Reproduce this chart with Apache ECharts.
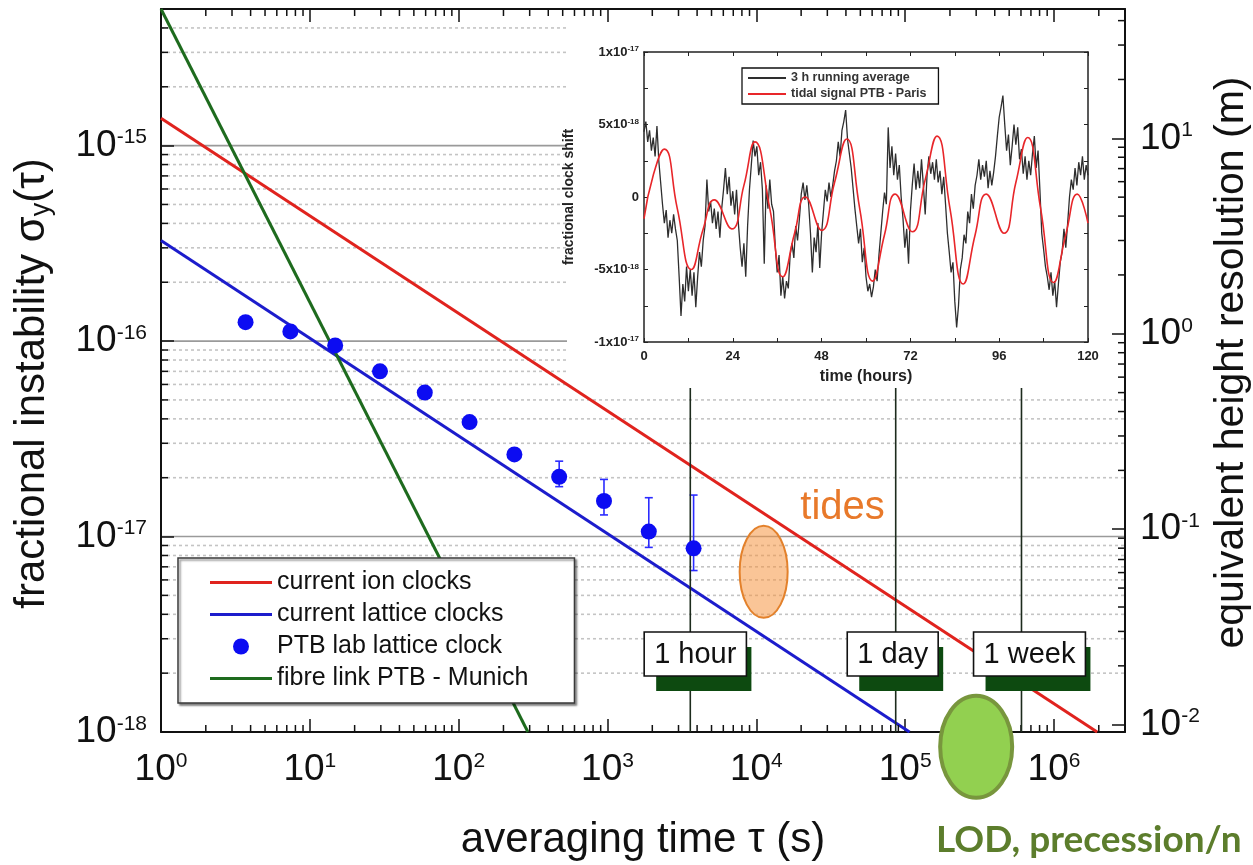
<!DOCTYPE html>
<html><head><meta charset="utf-8">
<script src="https://cdn.jsdelivr.net/npm/echarts@6/dist/echarts.min.js"></script>
<style>html,body{margin:0;padding:0;background:#fff}#c{width:1253px;height:865px}</style>
</head><body><div id="c"></div>
<script>
// ---------------- data ----------------
const tauMin = 1, tauMax = 3e6;            // averaging time axis (s)
const sigmaMin = 1e-18, sigmaMax = 5e-15;  // fractional instability axis
const metresPerSigma = 1 / 1.09e-16;       // equivalent height scale factor

const ionClockLine     = [[1, 1.38e-15], [1.95e6, 1e-18]];
const latticeClockLine = [[1, 3.27e-16], [1.07e5, 1e-18]];
const fibreLinkLine    = [[1, 5e-15], [292, 1e-18]];

const ptbTau     = [3.7, 7.4, 14.8, 29.6, 59.2, 118.4, 236.8, 473.6, 947.2, 1894.4, 3788.8];
const ptbSigma   = [1.25e-16, 1.12e-16, 9.5e-17, 7.0e-17, 5.45e-17, 3.85e-17, 2.63e-17, 2.02e-17, 1.52e-17, 1.06e-17, 8.7e-18];
const ptbErrLow  = [1.2e-16, 1.08e-16, 9.2e-17, 6.8e-17, 5.3e-17, 3.7e-17, 2.5e-17, 1.8e-17, 1.29e-17, 8.8e-18, 6.7e-18];
const ptbErrHigh = [1.32e-16, 1.16e-16, 9.8e-17, 7.2e-17, 5.6e-17, 4.0e-17, 2.8e-17, 2.43e-17, 1.96e-17, 1.58e-17, 1.63e-17];

const timeMarkTau    = [3600, 86400, 604800];
const timeMarkLabels = ['1 hour', '1 day', '1 week'];
const tidesRegion    = [[1.12e4, 6.6e-18]];
const tidesLabelAt   = [[3.8e4, 1.4e-17]];
const lodRegion      = [[3.0e5, 8.4e-19]];

const sigmaDecades   = [1e-17, 1e-16, 1e-15];
const minorMultiples = [2, 3, 4, 5, 6, 7, 8, 9];
const sigmaTickDecades = [1e-18, 1e-17, 1e-16, 1e-15];
const tauTickDecades   = [1, 10, 100, 1e3, 1e4, 1e5, 1e6];
const heightTickDecades = [0.001, 0.01, 0.1, 1, 10];

// inset: fractional clock shift in units of 1e-18, time in hours
const insetYTicks  = [-10, -5, 0, 5, 10];
const insetYLabels = [['-1x10', '-17'], ['-5x10', '-18'], ['0', ''], ['5x10', '-18'], ['1x10', '-17']];
const runningAvgStepHours = 0.5;
const runningAvg = [
 4.5, 5.2, 3.8, 4.6, 3.2, 4.1, 2.8, 4.9, 2.5, 1.0,
 -0.5, -1.8, -0.9, -2.8, -1.6, -2.5, -1.2, -2.2, -3.0, -5.5,
 -8.2, -6.0, -7.2, -4.8, -6.5, -5.0, -6.8, -5.2, -7.6, -5.5,
 -3.8, -4.8, -3.0, -2.0, 1.2, -1.0, -0.3, -1.8, -0.8, -2.2,
 -1.0, -2.8, -0.8, 0.5, 2.0, 0.2, 1.4, -0.6, 0.4, -1.2,
 0.5, -1.8, -3.5, -4.8, -3.2, -5.5, -2.0, 0.5, 2.2, 3.9,
 2.8, 3.5, 1.5, 2.4, 0.5, -4.6, 0.8, -0.8, 1.2, -0.5,
 -1.0, -3.5, -5.2, -4.0, -6.8, -5.5, -7.0, -5.8, -6.3, -4.0,
 -3.2, -4.2, -2.0, -3.0, -1.5, 0.2, 1.0, -0.2, 0.8, -0.5,
 -2.5, -5.2, -2.8, -3.8, -1.8, -4.9, -2.5, -1.0, 0.5, -0.3,
 1.0, 0.0, 0.8, 1.8, 2.5, 3.8, 2.8, 4.6, 5.2, 6.0,
 4.0, 3.0, 2.0, 0.6, -0.8, -2.0, -3.2, -2.2, -4.5, -3.5,
 -5.5, -6.5, -6.0, -6.9, -6.2, -5.0, -5.8, -4.0, -2.5, -1.0,
 0.3, -0.5, 4.8, 2.0, 3.5, 1.5, 3.0, 1.2, 2.2, 0.0,
 -1.5, -3.5, -2.2, -4.6, -1.0, 0.8, 2.3, 0.5, 1.8, 0.6,
 2.6, 0.8, -1.2, 1.5, 2.8, 1.6, 2.4, 1.2, 2.6, 1.0,
 1.8, 0.2, 1.4, -0.5, -2.5, -3.8, -5.2, -4.5, -7.2, -9.0,
 -7.5, -5.0, -4.2, -2.6, -3.2, -1.0, -1.8, 0.2, -0.8, 0.8,
 1.5, 2.6, 1.2, 2.2, 1.4, 2.5, 0.6, 1.8, 0.8, 1.7,
 2.8, 4.2, 5.5, 6.2, 7.0, 5.0, 3.2, 4.3, 2.2, 3.5,
 5.0, 3.6, 4.8, 2.6, 3.3, 1.6, 2.8, 1.2, 2.5, 1.5,
 3.0, 4.2, 2.0, 3.2, 0.5, -2.5, -3.6, -4.8, -5.5, -6.4,
 -5.2, -6.8, -5.8, -7.6, -6.0, -4.5, -3.8, -2.2, -3.5, -1.8,
 0.0, 1.2, 0.5, 2.0, 0.8, 2.4, 1.5, 2.8, 1.2, 2.2,
 1.5
];
const tidalSignal = [
 [0, -1.5], [2.5, 1.5], [5.5, 3.3], [9, -0.8], [12.8, -5.0], [16, -2.2], [19, -0.2], [23.7, -2.2],
 [27, 0.8], [30, 3.8], [34, -0.8], [37.5, -5.5], [40.7, -2.5], [43.6, 0.0], [48, -2.3], [51.5, 1.0],
 [54.8, 4.0], [58.3, -0.8], [61.8, -5.8], [65, -2.6], [67.9, 0.2], [72.5, -2.4], [76, 1.2], [79.2, 4.2],
 [82.7, -0.8], [86.3, -6.0], [89.5, -2.6], [92.5, 0.2], [97.3, -2.5], [100.5, 1.0], [103.7, 4.1],
 [107.2, -0.8], [110.7, -5.9], [114, -2.6], [117.1, 0.2], [120, -1.8]
];

// ---------------- helpers ----------------
const FONT = "'Liberation Sans', Arial, sans-serif";
const INK = '#111';
function minorsOf(decades, lo, hi) {
  const out = [];
  decades.forEach(d => minorMultiples.forEach(m => { const v = d * m; if (v > lo && v < hi) out.push(v); }));
  return out;
}
const sigmaMinor  = minorsOf(sigmaTickDecades, sigmaMin, sigmaMax);
const tauMinor    = minorsOf(tauTickDecades, tauMin, tauMax);
const hMin = sigmaMin * metresPerSigma, hMax = sigmaMax * metresPerSigma;
const heightMinor = minorsOf(heightTickDecades, hMin, hMax);

function decadeLabel(v) {
  const e = Math.log10(v), r = Math.round(e);
  if (Math.abs(e - r) > 1e-6) return '';
  return '{b|10}{s|' + r + '}';
}
const bigRich = {
  b: { fontSize: 37, fontFamily: FONT, color: INK, lineHeight: 37 },
  s: { fontSize: 21, fontFamily: FONT, color: INK, lineHeight: 21, verticalAlign: 'top' }
};
const smallRich = {
  b: { fontSize: 13, fontWeight: 'bold', fontFamily: FONT, color: '#222', lineHeight: 14 },
  s: { fontSize: 8, fontWeight: 'bold', fontFamily: FONT, color: '#222', lineHeight: 8, verticalAlign: 'top' }
};
const mctx = document.createElement('canvas').getContext('2d');
function measure(t, font) { mctx.font = font; return mctx.measureText(t).width; }
const LINE_ICON = 'path://M0,0 L60,0 L60,3 L0,3 Z';

const tickStyle = { stroke: INK, lineWidth: 1.5 };
function tickSeries(values, yAxisIndex, side) {
  return {
    type: 'custom', xAxisIndex: 0, yAxisIndex: yAxisIndex, z: 3, silent: true,
    data: side === 'x' ? values.map(v => [v, sigmaMin]) : values.map(v => [tauMin, v]),
    renderItem(params, api) {
      const cs = params.coordSys;
      const p = api.coord([api.value(0), api.value(1)]);
      if (side === 'x') {
        const yb = cs.y + cs.height;
        return { type: 'group', children: [
          { type: 'line', shape: { x1: p[0], y1: yb, x2: p[0], y2: yb - 7 }, style: tickStyle },
          { type: 'line', shape: { x1: p[0], y1: cs.y, x2: p[0], y2: cs.y + 7 }, style: tickStyle }
        ]};
      }
      const x0 = side === 'left' ? cs.x : cs.x + cs.width - 7;
      return { type: 'line', shape: { x1: x0, y1: p[1], x2: x0 + 7, y2: p[1] }, style: tickStyle };
    }
  };
}

const gridRows = sigmaDecades.map(v => [tauMin, v, 1]).concat(sigmaMinor.map(v => [tauMin, v, 0]));
const timeMarkBoxShift = [5, -3, 8];

const insetLeft = 644, insetTop = 52, insetW = 444, insetH = 290;
const insetAxisLine = { onZero: false, lineStyle: { color: '#222', width: 1.5 } };

const option = {
  animation: false,
  backgroundColor: '#fff',
  grid: [
    { left: 161, top: 9, right: 128, bottom: 133, show: false, containLabel: false, outerBoundsMode: 'none' },
    { left: insetLeft, top: insetTop, width: insetW, height: insetH, show: false, containLabel: false, outerBoundsMode: 'none' }
  ],
  legend: [
    {
      data: [
        { name: 'current ion clocks', icon: LINE_ICON }, { name: 'current lattice clocks', icon: LINE_ICON },
        { name: 'PTB lab lattice clock', icon: 'circle' }, { name: 'fibre link PTB - Munich', icon: LINE_ICON }
      ],
      orient: 'vertical', left: 178, top: 558, z: 10,
      padding: [12, 46, 12, 32], itemWidth: 62, itemHeight: 16, itemGap: 7,
      backgroundColor: '#fff', borderColor: '#3a3a3a', borderWidth: 1.5,
      shadowColor: 'rgba(0,0,0,0.45)', shadowBlur: 2, shadowOffsetX: 2, shadowOffsetY: 2,
      textStyle: { fontFamily: FONT, fontSize: 25, lineHeight: 25, color: INK }, selectedMode: false
    },
    {
      data: [{ name: '3 h running average', icon: LINE_ICON }, { name: 'tidal signal PTB - Paris', icon: LINE_ICON }],
      orient: 'vertical', left: 742, top: 68, z: 10,
      padding: [3, 12, 3, 6], itemWidth: 38, itemHeight: 8, itemGap: 2,
      backgroundColor: '#fff', borderColor: '#111', borderWidth: 1.3,
      textStyle: { fontFamily: FONT, fontSize: 12.5, lineHeight: 14, fontWeight: 'bold', color: '#333' }, selectedMode: false
    }
  ],
  xAxis: [
    { type: 'log', gridIndex: 0, min: tauMin, max: tauMax, position: 'bottom', z: 1.5,
      axisLine: { lineStyle: { color: INK, width: 2 } },
      axisTick: { inside: true, length: 13, lineStyle: { color: INK, width: 1.5 } },
      axisLabel: { formatter: decadeLabel, margin: 19, rich: bigRich, interval: 0, showMaxLabel: false },
      splitLine: { show: false },
      name: 'averaging time τ (s)', nameLocation: 'middle', nameGap: 87,
      nameTextStyle: { fontFamily: FONT, fontSize: 42, color: INK } },
    { type: 'log', gridIndex: 0, min: tauMin, max: tauMax, position: 'top', z: 1.5,
      axisLine: { lineStyle: { color: INK, width: 2 } },
      axisTick: { inside: true, length: 13, lineStyle: { color: INK, width: 1.5 } },
      axisLabel: { show: false }, splitLine: { show: false } },
    { type: 'value', gridIndex: 1, min: 0, max: 120, interval: 24, position: 'bottom', z: 5,
      axisLine: insetAxisLine,
      axisTick: { inside: true, length: 4, lineStyle: { color: '#222' } },
      minorTick: { show: true, splitNumber: 2, length: 4, lineStyle: { color: '#222' } },
      axisLabel: { margin: 8, fontFamily: FONT, fontSize: 13, fontWeight: 'bold', color: '#222' },
      splitLine: { show: false },
      name: 'time (hours)', nameLocation: 'middle', nameGap: 27,
      nameTextStyle: { fontFamily: FONT, fontSize: 16, fontWeight: 'bold', color: '#222' } },
    { type: 'value', gridIndex: 1, min: 0, max: 120, interval: 24, position: 'top', z: 5,
      axisLine: insetAxisLine,
      axisTick: { inside: true, length: 4, lineStyle: { color: '#222' } },
      minorTick: { show: true, splitNumber: 2, length: 4, lineStyle: { color: '#222' } },
      axisLabel: { show: false }, splitLine: { show: false } }
  ],
  yAxis: [
    { type: 'log', gridIndex: 0, min: sigmaMin, max: sigmaMax, position: 'left', z: 1.5,
      axisLine: { lineStyle: { color: INK, width: 2 } },
      axisTick: { inside: true, length: 13, lineStyle: { color: INK, width: 1.5 } },
      axisLabel: { formatter: decadeLabel, margin: 14, rich: bigRich, interval: 0, showMaxLabel: false },
      splitLine: { show: false },
      name: '{a|fractional instability σ}{sub|y}{a|(τ)}', nameLocation: 'middle', nameGap: 106, nameRotate: 90,
      nameTextStyle: { padding: [0, 26, 0, 0], rich: {
        a: { fontFamily: FONT, fontSize: 42, color: INK, lineHeight: 46 },
        sub: { fontFamily: FONT, fontSize: 27, color: INK, lineHeight: 27, verticalAlign: 'bottom' } } } },
    { type: 'log', gridIndex: 0, min: hMin, max: hMax, position: 'right', z: 1.5,
      axisLine: { lineStyle: { color: INK, width: 2 } },
      axisTick: { inside: true, length: 13, lineStyle: { color: INK, width: 1.5 } },
      axisLabel: { formatter: decadeLabel, margin: 15, rich: bigRich, interval: 0, showMaxLabel: false, showMinLabel: false },
      splitLine: { show: false },
      name: 'equivalent height resolution (m)', nameLocation: 'middle', nameGap: 84, nameRotate: 90,
      nameTextStyle: { fontFamily: FONT, fontSize: 41, color: INK, padding: [0, 0, 0, 16] } },
    { type: 'value', gridIndex: 1, min: -10, max: 10, interval: 5, position: 'left', z: 5,
      axisLine: insetAxisLine,
      axisTick: { inside: true, length: 4, lineStyle: { color: '#222' } },
      minorTick: { show: true, splitNumber: 2, length: 4, lineStyle: { color: '#222' } },
      axisLabel: { margin: 5, rich: smallRich, formatter: v => {
        const i = insetYTicks.indexOf(v); if (i < 0) return '';
        const l = insetYLabels[i]; return '{b|' + l[0] + '}' + (l[1] ? '{s|' + l[1] + '}' : ''); } },
      splitLine: { show: false },
      name: 'fractional clock shift', nameLocation: 'middle', nameGap: 68, nameRotate: 90,
      nameTextStyle: { fontFamily: FONT, fontSize: 14, fontWeight: 'bold', color: '#222' } },
    { type: 'value', gridIndex: 1, min: -10, max: 10, interval: 5, position: 'right', z: 5,
      axisLine: insetAxisLine,
      axisTick: { inside: true, length: 4, lineStyle: { color: '#222' } },
      minorTick: { show: true, splitNumber: 2, length: 4, lineStyle: { color: '#222' } },
      axisLabel: { show: false }, splitLine: { show: false } }
  ],
  graphic: [
    { type: 'rect', z: 1, silent: true, shape: { x: 567, y: 22, width: 557, height: 369 }, style: { fill: '#fff' } },
    { type: 'text', z: 5, left: 936, top: 822, silent: true,
      style: { text: 'LOD, precession/n', font: 'bold 37px Lato, ' + FONT, fill: '#5c7d2c' } }
  ],
  series: [
    { // horizontal grid lines
      type: 'custom', xAxisIndex: 0, yAxisIndex: 0, z: 0, silent: true, data: gridRows,
      renderItem(params, api) {
        const cs = params.coordSys;
        const y = api.coord([api.value(0), api.value(1)])[1];
        const major = api.value(2) === 1;
        return { type: 'line', shape: { x1: cs.x, y1: y, x2: cs.x + cs.width, y2: y },
          style: major ? { stroke: '#9a9a9a', lineWidth: 1.6 } : { stroke: '#c4c4c4', lineWidth: 1.6, lineDash: [3, 3] } };
      }
    },
    tickSeries(sigmaMinor, 0, 'left'),
    tickSeries(tauMinor, 0, 'x'),
    tickSeries(heightMinor, 1, 'right'),
    { name: 'current ion clocks', type: 'line', xAxisIndex: 0, yAxisIndex: 0, z: 2, symbol: 'none',
      data: ionClockLine, lineStyle: { color: '#e0231e', width: 3 }, itemStyle: { color: '#e0231e' } },
    { name: 'current lattice clocks', type: 'line', xAxisIndex: 0, yAxisIndex: 0, z: 2, symbol: 'none',
      data: latticeClockLine, lineStyle: { color: '#1c1ccc', width: 3 }, itemStyle: { color: '#1c1ccc' } },
    { name: 'fibre link PTB - Munich', type: 'line', xAxisIndex: 0, yAxisIndex: 0, z: 2, symbol: 'none',
      data: fibreLinkLine, lineStyle: { color: '#1e6b1e', width: 3 }, itemStyle: { color: '#1e6b1e' } },
    { // error bars
      type: 'custom', xAxisIndex: 0, yAxisIndex: 0, z: 3, silent: true,
      data: ptbTau.map((t, i) => [t, ptbErrLow[i], ptbErrHigh[i]]),
      renderItem(params, api) {
        const lo = api.coord([api.value(0), api.value(1)]);
        const hi = api.coord([api.value(0), api.value(2)]);
        const st = { stroke: '#2b2bff', lineWidth: 1.6 };
        return { type: 'group', children: [
          { type: 'line', shape: { x1: lo[0], y1: lo[1], x2: hi[0], y2: hi[1] }, style: st },
          { type: 'line', shape: { x1: lo[0] - 4, y1: lo[1], x2: lo[0] + 4, y2: lo[1] }, style: st },
          { type: 'line', shape: { x1: hi[0] - 4, y1: hi[1], x2: hi[0] + 4, y2: hi[1] }, style: st }
        ]};
      }
    },
    { name: 'PTB lab lattice clock', type: 'scatter', xAxisIndex: 0, yAxisIndex: 0, z: 4,
      symbol: 'circle', symbolSize: 16, data: ptbTau.map((t, i) => [t, ptbSigma[i]]),
      itemStyle: { color: '#0c0cf2', opacity: 1 } },
    { // time scale markers
      type: 'custom', xAxisIndex: 0, yAxisIndex: 0, z: 3, silent: true,
      data: timeMarkTau.map(t => [t, sigmaMin]),
      renderItem(params, api) {
        const cs = params.coordSys;
        const x = api.coord([api.value(0), api.value(1)])[0];
        const yb = cs.y + cs.height;
        const label = timeMarkLabels[params.dataIndex];
        const font = '29px ' + FONT;
        const w = measure(label, font) + 20, h = 44;
        const cx = x + timeMarkBoxShift[params.dataIndex];
        const bx = cx - w / 2, by = yb - 100;
        return { type: 'group', children: [
          { type: 'line', shape: { x1: x, y1: 388, x2: x, y2: yb }, style: { stroke: '#1d2b1d', lineWidth: 1.6 } },
          { type: 'rect', shape: { x: bx + 12, y: by + 15, width: w - 7, height: h }, style: { fill: '#0d4a10' } },
          { type: 'rect', shape: { x: bx, y: by, width: w, height: h }, style: { fill: '#fff', stroke: INK, lineWidth: 1.6 } },
          { type: 'text', style: { text: label, x: cx, y: by + h / 2 + 1, align: 'center', verticalAlign: 'middle', font: font, fill: INK } }
        ]};
      }
    },
    { // tides region
      type: 'custom', xAxisIndex: 0, yAxisIndex: 0, z: 3, silent: true, data: tidesRegion,
      renderItem(params, api) {
        const p = api.coord([api.value(0), api.value(1)]);
        return { type: 'ellipse', shape: { cx: p[0], cy: p[1], rx: 24, ry: 46 },
          style: { fill: 'rgba(246,150,66,0.55)', stroke: '#e3812b', lineWidth: 2 } };
      }
    },
    { type: 'custom', xAxisIndex: 0, yAxisIndex: 0, z: 3, silent: true, data: tidesLabelAt,
      renderItem(params, api) {
        const p = api.coord([api.value(0), api.value(1)]);
        return { type: 'text', style: { text: 'tides', x: p[0], y: p[1], align: 'center', verticalAlign: 'middle',
          font: '40px ' + FONT, fill: '#e8792a' } };
      }
    },
    { // LOD / precession region
      type: 'custom', xAxisIndex: 0, yAxisIndex: 0, z: 4, silent: true, data: lodRegion, clip: false,
      renderItem(params, api) {
        const p = api.coord([api.value(0), api.value(1)]);
        return { type: 'ellipse', shape: { cx: p[0], cy: p[1], rx: 36, ry: 51 },
          style: { fill: '#92d050', stroke: '#78963d', lineWidth: 4 } };
      }
    },
    { name: '3 h running average', type: 'line', xAxisIndex: 2, yAxisIndex: 2, z: 6, symbol: 'none',
      data: runningAvg.map((v, i) => [i * runningAvgStepHours, v]),
      lineStyle: { color: '#2e2e2e', width: 1.3 }, itemStyle: { color: '#2e2e2e' } },
    { name: 'tidal signal PTB - Paris', type: 'line', xAxisIndex: 2, yAxisIndex: 2, z: 7, symbol: 'none',
      smooth: 0.5, data: tidalSignal, lineStyle: { color: '#e8262a', width: 1.6 }, itemStyle: { color: '#e8262a' } }
  ]
};

const chart = echarts.init(document.getElementById('c'));
chart.setOption(option);
</script>
</body></html>
